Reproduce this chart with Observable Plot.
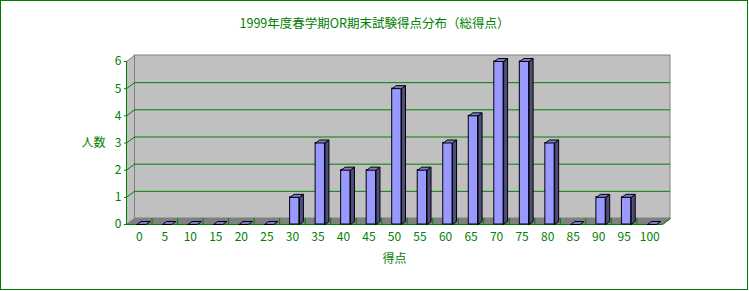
<!DOCTYPE html>
<html><head><meta charset="utf-8">
<script src="https://cdn.jsdelivr.net/npm/d3@7"></script>
<script src="https://cdn.jsdelivr.net/npm/@observablehq/plot@0.6"></script>
<style>
body{margin:0;background:#fff;}
#wrap{position:relative;width:749px;height:291px;}
#border{position:absolute;left:0;top:0;width:748px;height:290px;box-sizing:border-box;border:1px solid #008000;pointer-events:none;}
</style>
</head><body>
<div id="wrap"><div id="border"></div></div>
<script>
const title = "1999年度春学期OR期末試験得点分布（総得点）";
const yLabel = "人数";
const xLabel = "得点";
const scoreLabels = ["0","5","10","15","20","25","30","35","40","45","50","55","60","65","70","75","80","85","90","95","100"];
const counts = [0,0,0,0,0,0,1,3,2,2,5,2,3,4,6,6,3,0,1,1,0];
const yTicks = [0,1,2,3,4,5,6];
const gridValues = [1,2,3,4,5];

const W = 749, H = 291;
const mL = 126, mR = 87, mT = 61, mB = 67;
const kx = (W - mL - mR) / 21;   // px per category unit
const ky = (H - mT - mB) / 6;    // px per count unit
const ux = p => p / kx, uy = p => p / ky;
const OX = ux(8), OY = uy(6);      // wall depth
const SX = ux(4), SY = uy(3);      // bar depth
const FX1 = ux(-2.3), FX2 = ux(7);
const X0 = -0.5, X1 = 20.5, YMAX = 6;
const idx = counts.map((_, i) => i);

const green = "#008000";
const poly = pts => pts.map(([x, y], k) => ({x, y, k}));

const leftWall = poly([[X0,0],[X0,YMAX],[X0+OX,YMAX+OY],[X0+OX,OY],[X0,0]]);
const floor = poly([[X0,0],[X1,0],[X1+OX,OY],[X0+OX,OY],[X0,0]]);

const tops = [], sides = [];
counts.forEach((v, i) => {
  const a = i + FX1, b = i + FX2;
  [[a,v],[b,v],[b+SX,v+SY],[a+SX,v+SY],[a,v]].forEach(([x,y]) => tops.push({x, y, id: i}));
  if (v > 0) [[b,0],[b,v],[b+SX,v+SY],[b+SX,SY],[b,0]].forEach(([x,y]) => sides.push({x, y, id: i}));
});
const bars = counts.map((v, i) => ({i, v})).filter(d => d.v > 0);

const plot = Plot.plot({
  width: W, height: H,
  marginLeft: mL, marginRight: mR, marginTop: mT, marginBottom: mB,
  style: {color: green, fontSize: "12px", fontFamily: "'Noto Sans CJK JP', sans-serif", background: "transparent"},
  x: {type: "linear", domain: [X0, X1], ticks: idx, tickFormat: d => scoreLabels[d], tickSize: 0, tickPadding: 8, label: null},
  y: {domain: [0, YMAX], ticks: yTicks, tickFormat: d => String(d), tickSize: 2, tickPadding: 3, label: null},
  marks: [
    Plot.rect([0], {x1: () => X0, x2: () => X1, y1: () => 0, y2: () => YMAX, dx: 8, dy: -6, fill: "#c0c0c0", stroke: "#808080"}),
    Plot.line(leftWall, {x: "x", y: "y", fill: "#c0c0c0", stroke: "#808080", strokeWidth: 1}),
    Plot.line(floor, {x: "x", y: "y", fill: "#808080", stroke: "#808080", strokeWidth: 1}),
    Plot.ruleY(gridValues, {dx: 8, dy: -6, stroke: green, strokeWidth: 1}),
    Plot.link(gridValues, {x1: () => X0, y1: d => d, x2: () => X0 + OX, y2: d => d + OY, stroke: green}),
    Plot.ruleX(idx.slice(0, 20), {x: d => d + 0.5, y1: () => 0, y2: () => OY, stroke: green}),
    Plot.link([0], {x1: () => X1, y1: () => 0, x2: () => X1 + OX, y2: () => OY, stroke: green}),
    Plot.ruleY([0], {stroke: green}),
    Plot.ruleX([X0], {y1: () => 0, y2: () => YMAX, stroke: green}),
    Plot.rect(bars, {x1: d => d.i + FX1, x2: d => d.i + FX2, y1: () => 0, y2: "v", fill: "#9999ff", stroke: "black", strokeWidth: 1}),
    Plot.line(sides, {x: "x", y: "y", z: "id", fill: "#4d4d80", stroke: "black", strokeWidth: 1}),
    Plot.line(tops, {x: "x", y: "y", z: "id", fill: "#7a7acc", stroke: "black", strokeWidth: 1}),
    Plot.text([title], {frameAnchor: "top", dx: -20, dy: -42, fill: green, fontSize: 12.5, textAnchor: "middle"}),
    Plot.text([yLabel], {frameAnchor: "left", dx: -33, fill: green, fontSize: 12, textAnchor: "middle"}),
    Plot.text([xLabel], {frameAnchor: "bottom", dy: 38, fill: green, fontSize: 12, textAnchor: "middle"})
  ]
});
document.getElementById("wrap").prepend(plot);
</script>
</body></html>
